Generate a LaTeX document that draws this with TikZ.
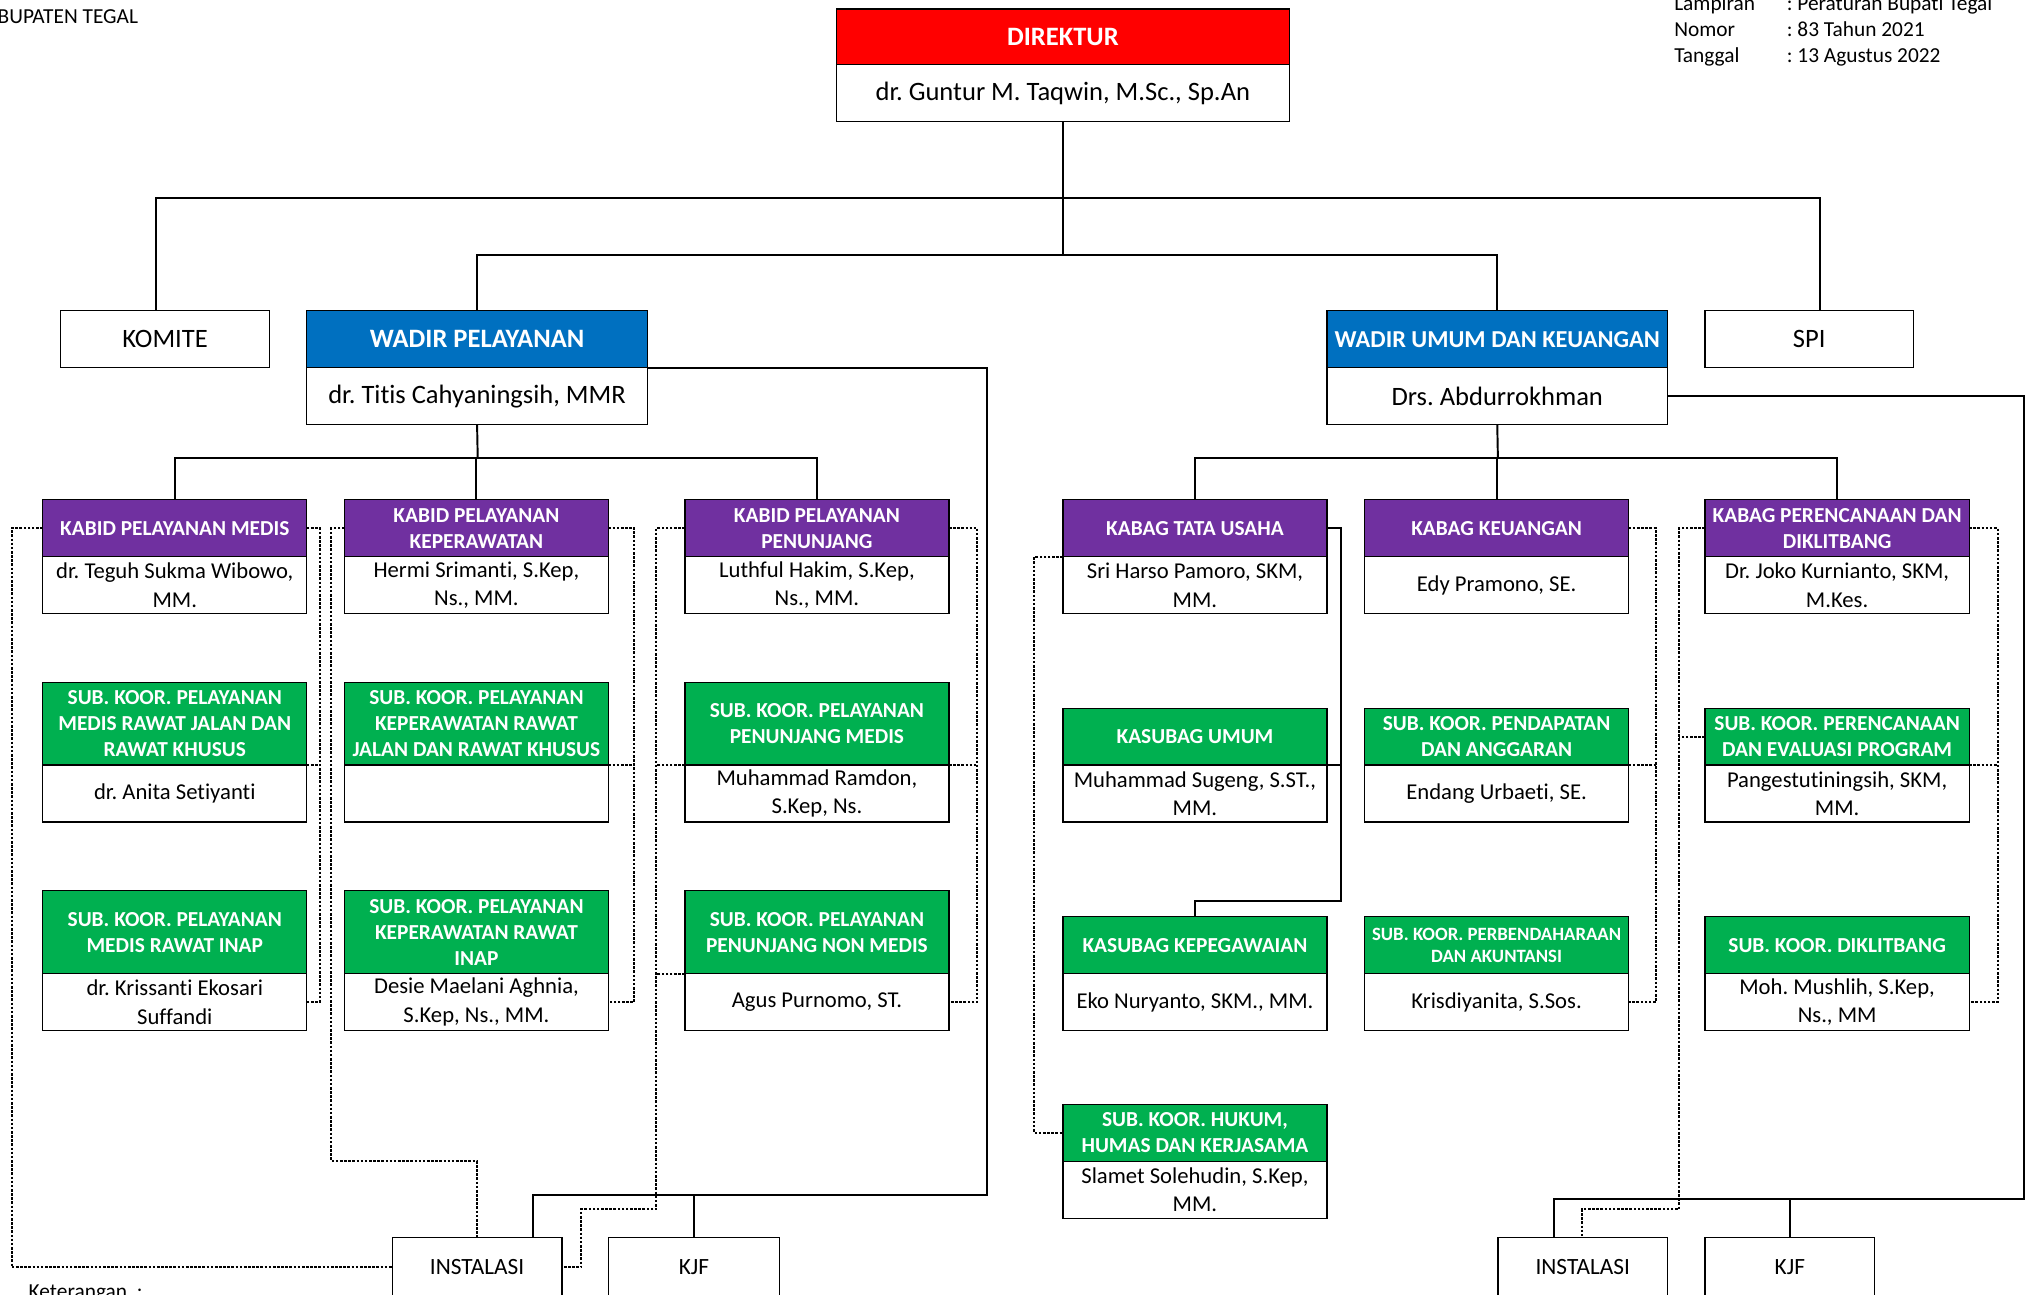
\documentclass[tikz,border=0pt]{standalone}
\usepackage{fontspec}
\setmainfont[Ligatures=NoCommon]{Carlito}
\usetikzlibrary{positioning}
\definecolor{dirred}{HTML}{FF0000}
\definecolor{wadirblue}{HTML}{0070C0}
\definecolor{kabidpurple}{HTML}{7030A0}
\definecolor{subgreen}{HTML}{00B050}
\frenchspacing

\begin{document}
\begin{tikzpicture}[x=1pt, y=-1pt,
    box/.style={draw, line width=1pt, inner sep=0pt, outer sep=0pt, align=center, anchor=north west, minimum width=204pt, minimum height=44pt},
    hdr/.style={box, fill=#1, text=white, font=\bfseries\fontsize{16.5}{20}\selectfont},
    nm/.style={box, anchor=north, font=\fontsize{17.5}{22}\selectfont},
    toptext/.style={font=\fontsize{20.5}{24}\selectfont},
    tophdr/.style={font=\bfseries\fontsize{20.5}{24}\selectfont},
    notetext/.style={anchor=base west, inner sep=0pt, font=\fontsize{16.5}{20}\selectfont},
    conn/.style={line width=1.5pt},
    dotln/.style={line width=1.5pt, dash pattern=on 2pt off 1.2pt}]
    \useasboundingbox (0,0) rectangle (1568,1000);

    \node[notetext] (kab) at (-2,18.5) {BUPATEN TEGAL};
    \node[notetext] (lamp) at (1293,8.5) {\begin{tabular}[t]{@{}p{87pt}@{}l@{}}Lampiran & : Peraturan Bupati Tegal\\ Nomor & : 83 Tahun 2021\\ Tanggal & : 13 Agustus 2022\end{tabular}};
    \node[notetext] (ket) at (22,1003) {Keterangan\ \ :};

    \node[hdr=dirred, tophdr, minimum width=350pt, minimum height=43pt] (dir) at (646,7) {DIREKTUR};
    \node[nm, toptext, minimum width=350pt, below=0pt of dir] (dirN) {dr. Guntur M. Taqwin, M.Sc., Sp.An};

    \node[box, toptext, minimum width=161pt] (komite) at (47,240) {KOMITE};
    \node[hdr=wadirblue, tophdr, minimum width=263pt] (wp) at (237,240) {WADIR PELAYANAN};
    \node[nm, toptext, minimum width=263pt, below=0pt of wp] (wpN) {dr. Titis Cahyaningsih, MMR};
    \node[hdr=wadirblue, minimum width=263pt, font=\bfseries\fontsize{18.8}{24}\selectfont] (wu) at (1025,240) {WADIR UMUM DAN KEUANGAN};
    \node[nm, toptext, minimum width=263pt, below=0pt of wu] (wuN) {Drs. Abdurrokhman};
    \node[box, toptext, minimum width=161pt] (spi) at (1317,240) {SPI};

    \node[hdr=kabidpurple] (kmed) at (33,386) {KABID PELAYANAN MEDIS};
    \node[nm, below=0pt of kmed] (kmedN) {dr. Teguh Sukma Wibowo,\\MM.};
    \node[hdr=kabidpurple] (kkep) at (266,386) {KABID PELAYANAN\\KEPERAWATAN};
    \node[nm, below=0pt of kkep] (kkepN) {Hermi Srimanti, S.Kep,\\Ns., MM.};
    \node[hdr=kabidpurple] (kpen) at (529,386) {KABID PELAYANAN\\PENUNJANG};
    \node[nm, below=0pt of kpen] (kpenN) {Luthful Hakim, S.Kep,\\Ns., MM.};
    \node[hdr=kabidpurple] (ktu) at (821,386) {KABAG TATA USAHA};
    \node[nm, below=0pt of ktu] (ktuN) {Sri Harso Pamoro, SKM,\\MM.};
    \node[hdr=kabidpurple] (kkeu) at (1054,386) {KABAG KEUANGAN};
    \node[nm, below=0pt of kkeu] (kkeuN) {Edy Pramono, SE.};
    \node[hdr=kabidpurple] (kpr) at (1317,386) {KABAG PERENCANAAN DAN\\DIKLITBANG};
    \node[nm, below=0pt of kpr] (kprN) {Dr. Joko Kurnianto, SKM,\\M.Kes.};

    \node[hdr=subgreen, minimum height=64pt] (smj) at (33,527) {SUB. KOOR. PELAYANAN\\MEDIS RAWAT JALAN DAN\\RAWAT KHUSUS};
    \node[nm, below=0pt of smj] (smjN) {dr. Anita Setiyanti};
    \node[hdr=subgreen, minimum height=64pt] (skj) at (266,527) {SUB. KOOR. PELAYANAN\\KEPERAWATAN RAWAT\\JALAN DAN RAWAT KHUSUS};
    \node[nm, below=0pt of skj] (skjN) {};
    \node[hdr=subgreen, minimum height=64pt] (spm) at (529,527) {SUB. KOOR. PELAYANAN\\PENUNJANG MEDIS};
    \node[nm, below=0pt of spm] (spmN) {Muhammad Ramdon,\\S.Kep, Ns.};
    \node[hdr=subgreen] (kum) at (821,547) {KASUBAG UMUM};
    \node[nm, below=0pt of kum] (kumN) {Muhammad Sugeng, S.ST.,\\MM.};
    \node[hdr=subgreen] (spd) at (1054,547) {SUB. KOOR. PENDAPATAN\\DAN ANGGARAN};
    \node[nm, below=0pt of spd] (spdN) {Endang Urbaeti, SE.};
    \node[hdr=subgreen] (sper) at (1317,547) {SUB. KOOR. PERENCANAAN\\DAN EVALUASI PROGRAM};
    \node[nm, below=0pt of sper] (sperN) {Pangestutiningsih, SKM,\\MM.};

    \node[hdr=subgreen, minimum height=64pt] (smi) at (33,688) {SUB. KOOR. PELAYANAN\\MEDIS RAWAT INAP};
    \node[nm, below=0pt of smi] (smiN) {dr. Krissanti Ekosari\\Suffandi};
    \node[hdr=subgreen, minimum height=64pt] (ski) at (266,688) {SUB. KOOR. PELAYANAN\\KEPERAWATAN RAWAT\\INAP};
    \node[nm, below=0pt of ski] (skiN) {Desie Maelani Aghnia,\\S.Kep, Ns., MM.};
    \node[hdr=subgreen, minimum height=64pt] (spn) at (529,688) {SUB. KOOR. PELAYANAN\\PENUNJANG NON MEDIS};
    \node[nm, below=0pt of spn] (spnN) {Agus Purnomo, ST.};
    \node[hdr=subgreen] (kpeg) at (821,708) {KASUBAG KEPEGAWAIAN};
    \node[nm, below=0pt of kpeg] (kpegN) {Eko Nuryanto, SKM., MM.};
    \node[hdr=subgreen, font=\bfseries\fontsize{14.5}{17}\selectfont] (spb) at (1054,708) {SUB. KOOR. PERBENDAHARAAN\\DAN AKUNTANSI};
    \node[nm, below=0pt of spb] (spbN) {Krisdiyanita, S.Sos.};
    \node[hdr=subgreen] (sdik) at (1317,708) {SUB. KOOR. DIKLITBANG};
    \node[nm, below=0pt of sdik] (sdikN) {Moh. Mushlih, S.Kep,\\Ns., MM};

    \node[hdr=subgreen] (shk) at (821,853) {SUB. KOOR. HUKUM,\\HUMAS DAN KERJASAMA};
    \node[nm, below=0pt of shk] (shkN) {Slamet Solehudin, S.Kep,\\MM.};

    \node[box, minimum width=131pt, minimum height=46pt, font=\fontsize{18}{22}\selectfont] (instL) at (303,956) {INSTALASI};
    \node[box, minimum width=132pt, minimum height=46pt, font=\fontsize{18}{22}\selectfont] (kjfL) at (470,956) {KJF};
    \node[box, minimum width=131pt, minimum height=46pt, font=\fontsize{18}{22}\selectfont] (instR) at (1157,956) {INSTALASI};
    \node[box, minimum width=131pt, minimum height=46pt, font=\fontsize{18}{22}\selectfont] (kjfR) at (1317,956) {KJF};

    \coordinate (bus1) at (821,153);
    \coordinate (bus2) at (821,197);
    \coordinate (bus3) at (369,354);
    \coordinate (bus4) at (1157,354);
    \coordinate (lbus) at (762,923);
    \coordinate (rbus) at (1563,926);

    \draw[conn] (dirN.south) -- (bus2);
    \draw[conn] ([xshift=-7pt]komite.north) |- (bus1) -| ([xshift=8pt]spi.north);
    \draw[conn] (wp.north) |- (bus2) -| (wu.north);
    \draw[conn] (wpN.south) -- (bus3);
    \draw[conn] (kmed.north) |- (bus3) -| (kpen.north);
    \draw[conn] (kkep.north) -- (kkep.north |- bus3);
    \draw[conn] (wuN.south) -- (bus4);
    \draw[conn] (ktu.north) |- (bus4) -| (kpr.north);
    \draw[conn] (kkeu.north) -- (kkeu.north |- bus4);
    \draw[conn] (wp.south east) -| (lbus) -| ([xshift=-22pt]instL.north east);
    \draw[conn] (kjfL.north) -- (kjfL.north |- lbus);
    \draw[conn] (wuN.east) -| (rbus) -| ([xshift=43pt]instR.north west);
    \draw[conn] (kjfR.north) -- (kjfR.north |- rbus);
    \draw[conn] (ktu.east) -- ++(11,0) |- ([yshift=12pt]kpeg.north) -- (kpeg.north);
    \draw[conn] (kum.south east) -- ++(11,0);

    \draw[dotln] (kmed.west) -- ++(-24,0) |- (instL.west);
    \draw[dotln] (kmed.east) -- ++(10,0) |- (smiN.east);
    \draw[dotln] (smj.south east) -- ++(10,0);
    \draw[dotln] (kkep.west) -- ++(-10,0) |- ([yshift=59pt]instL.north) -- (instL.north);
    \draw[dotln] (kkep.east) -- ++(20,0) |- (skiN.east);
    \draw[dotln] (skj.south east) -- ++(20,0);
    \draw[dotln] (kpen.west) -- ++(-22,0) |- ([shift={(15pt,22pt)}]instL.north east) |- (instL.east);
    \draw[dotln] (spm.south west) -- ++(-22,0);
    \draw[dotln] (spn.south west) -- ++(-22,0);
    \draw[dotln] (kpen.east) -- ++(22,0) |- (spnN.east);
    \draw[dotln] (spm.south east) -- ++(22,0);
    \draw[dotln] (ktu.south west) -- ++(-22,0) |- (shk.west);
    \draw[dotln] (kkeu.east) -- ++(21,0) |- (spbN.east);
    \draw[dotln] (spd.south east) -- ++(21,0);
    \draw[dotln] (kpr.west) -- ++(-20,0) |- ([shift={(65pt,22pt)}]instR.north west) -- ([xshift=65pt]instR.north west);
    \draw[dotln] (sper.west) -- ++(-20,0);
    \draw[dotln] (kpr.east) -- ++(22,0) |- (sdikN.east);
    \draw[dotln] (sper.south east) -- ++(22,0);
\end{tikzpicture}
\end{document}
